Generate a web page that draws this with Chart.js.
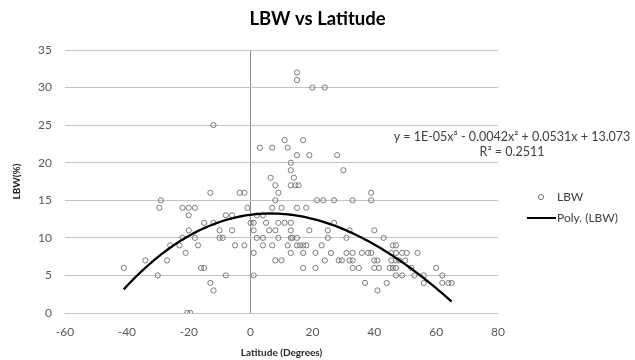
<!DOCTYPE html>
<html>
<head>
<meta charset="utf-8">
<title>LBW vs Latitude</title>
<script src="https://cdn.jsdelivr.net/npm/chart.js@4.4.1/dist/chart.umd.min.js"></script>
<style>
  html, body { margin: 0; padding: 0; background: #fff; }
  #wrap { width: 635px; height: 360px; }
</style>
</head>
<body>
<div id="wrap"><canvas id="lbwChart" width="635" height="360"></canvas></div>
<script>
// latitude (degrees) and LBW (%) per site, same order in both arrays
const latitude = [
  -41, -34, -30, -29.5, -29, -27, -26, -23, -22, -22, -20, -18, -20, -20, -21, -18, -17, -20.5, -19.5, -16,
  -15, -15, -13, -13, -12, -12, -12, -10, -10, -9, -8, -8, -6, -6, -5, -3.5, -2, -2, -1,
  15, 13, 13, 6.5, 14, 8, 13, 14.5, 15.5, 9, 8, 7, 10, 15, 2, 4, 0, 1, 5, 9, 11, 13, 1, 6, 8, 13,
  2, 4, 9, 13, 13.5, 15, 4, 7, 12, 15, 16, 1, 13, 8, 10, 1,
  15, 15, 20, 24, 11, 17, 3, 7, 12, 19, 28, 30, 39,
  21.5, 23.5, 27, 33, 39, 18, 27, 19, 25, 32, 40, 25, 31, 43, 17, 18, 23, 46, 47,
  17, 21, 26, 31, 33, 36, 38, 39, 45.5, 47, 49, 50.5, 54,
  24, 28.5, 29.5, 32, 33, 40, 41, 45.5, 47, 48, 50,
  17, 21, 33, 35, 40, 41.5, 45, 46, 47, 52, 60,
  47, 49, 53, 56, 62, 37, 44, 56, 62, 64, 65, 41
];
const lbw = [
  6, 7, 5, 14, 15, 7, 9, 9, 10, 14, 14, 14, 13, 11, 8, 10, 9, 0, 0, 6,
  6, 12, 16, 4, 12, 3, 25, 11, 10, 10, 5, 13, 13, 11, 9, 16, 16, 9, 14,
  21, 20, 19, 18, 18, 17, 17, 17, 17, 16, 15, 14, 14, 14, 13, 13, 12, 12, 12, 12, 12, 12, 11, 11, 11, 11,
  10, 10, 10, 10, 10, 10, 9, 9, 9, 9, 9, 8, 8, 7, 7, 5,
  32, 31, 30, 30, 23, 23, 22, 22, 22, 21, 21, 19, 16,
  15, 15, 15, 15, 15, 14, 12, 11, 11, 11, 11, 10, 10, 10, 9, 9, 9, 9, 9,
  8, 8, 8, 8, 8, 8, 8, 8, 8, 8, 8, 8, 8,
  7, 7, 7, 7, 7, 7, 7, 7, 7, 7, 7,
  6, 6, 6, 6, 6, 6, 6, 6, 6, 6, 6,
  5, 5, 5, 5, 5, 4, 4, 4, 4, 4, 4, 3
];

// 3rd order polynomial trendline, coefficients c0..c3 as printed on the chart
const trendCoef = [13.073, 0.0531, -0.0042, 0.00001];
const trendText = ['y = 1E-05x\u00B3 - 0.0042x\u00B2 + 0.0531x + 13.073', 'R\u00B2 = 0.2511'];
const chartTitle = 'LBW vs Latitude';

const xTicks = [-60, -40, -20, 0, 20, 40, 60, 80];
const yTicks = [0, 5, 10, 15, 20, 25, 30, 35];

const points = latitude.map((x, i) => ({ x: x, y: lbw[i] }));

const xMin = Math.min(...latitude);
const xMax = Math.max(...latitude);
const trend = [];
for (let x = xMin; x <= xMax; x += 1) {
  const y = trendCoef[0] + trendCoef[1] * x + trendCoef[2] * x * x + trendCoef[3] * x * x * x;
  trend.push({ x: x, y: y });
}

const FONT = 'Lato, "Open Sans", sans-serif';
Chart.defaults.font.family = FONT;
Chart.defaults.color = '#595959';

// title over the whole canvas, equation + R² and the legend on the right
const notesPlugin = {
  id: 'notes',
  afterDraw(chart) {
    const ctx = chart.ctx;
    const ds = chart.data.datasets;
    ctx.save();
    ctx.textBaseline = 'middle';
    ctx.textAlign = 'center';
    ctx.fillStyle = '#000000';
    ctx.font = 'bold 18.5px ' + FONT;
    ctx.fillText(chartTitle, chart.width / 2, 19);

    ctx.fillStyle = '#404040';
    ctx.font = '12.5px ' + FONT;
    ctx.fillText(trendText[0], 512, 137);
    ctx.fillText(trendText[1], 512, 152);

    ctx.textAlign = 'left';
    ctx.font = '12px ' + FONT;
    // scatter entry
    ctx.beginPath();
    ctx.arc(541, 197, 2.6, 0, Math.PI * 2);
    ctx.strokeStyle = ds[0].borderColor;
    ctx.lineWidth = 1;
    ctx.stroke();
    ctx.fillText(ds[0].label, 557, 197);
    // trendline entry
    ctx.beginPath();
    ctx.moveTo(527, 218);
    ctx.lineTo(556, 218);
    ctx.strokeStyle = ds[1].borderColor;
    ctx.lineWidth = 2;
    ctx.stroke();
    ctx.fillText(ds[1].label, 557, 218);
    ctx.restore();
  }
};

new Chart(document.getElementById('lbwChart'), {
  type: 'scatter',
  data: {
    datasets: [
      {
        label: 'LBW',
        data: points,
        order: 1,
        pointRadius: 2.6,
        pointBorderWidth: 1,
        borderColor: '#7a7a7a',
        backgroundColor: 'rgba(255,255,255,0)',
        pointHoverRadius: 2.6
      },
      {
        label: 'Poly. (LBW)',
        data: trend,
        order: 0,
        showLine: true,
        pointRadius: 0,
        borderColor: '#000000',
        borderWidth: 2.3,
        tension: 0
      }
    ]
  },
  options: {
    responsive: false,
    animation: false,
    devicePixelRatio: 1,
    layout: { padding: { left: 0, right: 137, top: 50, bottom: 0 } },
    plugins: {
      legend: { display: false },
      tooltip: { enabled: false },
      title: { display: false }
    },
    scales: {
      x: {
        type: 'linear',
        min: -60,
        max: 80,
        afterBuildTicks: s => { s.ticks = xTicks.map(v => ({ value: v })); },
        afterFit: s => { s.height = 47; },
        border: { display: false },
        grid: {
          drawTicks: false,
          color: c => (c.tick && c.tick.value === 0 ? '#8c8c8c' : 'rgba(0,0,0,0)'),
          lineWidth: 1
        },
        ticks: { padding: 12, font: { size: 12 }, color: '#595959' },
        title: {
          display: true,
          text: 'Latitude (Degrees)',
          color: '#262626',
          font: { size: 10, weight: 'bold' },
          padding: { top: 0, bottom: 1 }
        }
      },
      y: {
        type: 'linear',
        min: 0,
        max: 35,
        afterBuildTicks: s => { s.ticks = yTicks.map(v => ({ value: v })); },
        afterFit: s => { s.width = 65; },
        border: { display: false },
        grid: { drawTicks: false, color: '#c4c4c4', lineWidth: 1 },
        ticks: { padding: 13, font: { size: 12 }, color: '#595959' },
        title: {
          display: true,
          text: 'LBW(%)',
          color: '#262626',
          font: { size: 10, weight: 'bold' },
          padding: { top: 11, bottom: 0 }
        }
      }
    }
  },
  plugins: [notesPlugin]
});
</script>
</body>
</html>
